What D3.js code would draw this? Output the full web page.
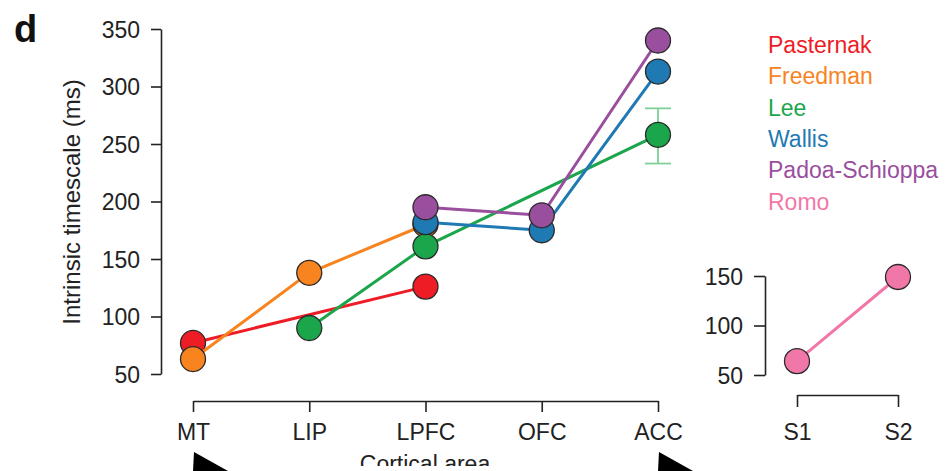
<!DOCTYPE html>
<html>
<head>
<meta charset="utf-8">
<script src="https://cdn.jsdelivr.net/npm/d3@7"></script>
<style>
  body { margin: 0; background: #fff; }
  svg { display: block; font-family: "Liberation Sans", Arial, sans-serif; }
  .axis path, .axis line { stroke: #222; stroke-width: 1.6; }
  .axis text { fill: #222; font-size: 23px; }
</style>
</head>
<body>
<div id="chart"></div>
<script>
const svgWidth = 952
const svgHeight = 471

// cortical areas and timescales (ms), null = not recorded
const areas = ["MT", "LIP", "LPFC", "OFC", "ACC"]
const pasternak = [77, null, 126, null, null]
const freedman = [63, 138, 180, null, null]
const lee = [null, 90, 161, null, 258]
const wallis = [null, null, 182, 175, 313]
const padoa = [null, null, 195, 188, 340]
const leeErrLow = [null, null, null, null, 233]
const leeErrHigh = [null, null, null, null, 281]

const mainTicks = [50, 100, 150, 200, 250, 300, 350]

// somatosensory inset
const romoAreas = ["S1", "S2"]
const romo = [64, 149]
const romoTicks = [50, 100, 150]

const seriesNames = ["Pasternak", "Freedman", "Lee", "Wallis", "Padoa-Schioppa", "Romo"]
const seriesColors = ["#ee1c25", "#f7841f", "#1ba64b", "#1f7ab4", "#9a4e9e", "#f277a9"]

let svg = d3.select("#chart")
  .append("svg")
  .attr("width", svgWidth)
  .attr("height", svgHeight)

// the figure is cropped just below the top of the x title
svg.append("clipPath")
  .attr("id", "crop")
  .append("rect")
  .attr("x", 0).attr("y", 0)
  .attr("width", svgWidth).attr("height", 466)

// scales
let x = d3.scalePoint().domain(areas).range([193, 658])
let y = d3.scaleLinear().domain([50, 350]).range([374, 29])

let xIn = d3.scalePoint().domain(romoAreas).range([797, 898])
let yIn = d3.scaleLinear().domain([50, 150]).range([375, 276])

// axes
svg.append("g")
  .attr("class", "axis")
  .attr("transform", "translate(161,0)")
  .call(d3.axisLeft(y).tickValues(mainTicks).tickSize(10).tickSizeOuter(0).tickPadding(11))
  .call(g => g.selectAll("text").attr("dy", "0.36em"))

svg.append("g")
  .attr("class", "axis")
  .attr("transform", "translate(0,401)")
  .call(d3.axisBottom(x).tickSize(11).tickSizeOuter(0))
  .call(g => g.selectAll("text").attr("y", 39).attr("dy", 0))

svg.append("g")
  .attr("class", "axis")
  .attr("transform", "translate(765,0)")
  .call(d3.axisLeft(yIn).tickValues(romoTicks).tickSize(11).tickSizeOuter(0).tickPadding(11))
  .call(g => g.selectAll("text").attr("dy", "0.36em"))

svg.append("g")
  .attr("class", "axis")
  .attr("transform", "translate(0,395)")
  .call(d3.axisBottom(xIn).tickSize(12).tickSizeOuter(0))
  .call(g => g.selectAll("text").attr("y", 45).attr("dy", 0))

// labels
svg.append("text")
  .attr("x", 14)
  .attr("y", 42)
  .attr("font-size", "38px")
  .attr("font-weight", "bold")
  .attr("fill", "#111")
  .text("d")

svg.append("text")
  .attr("transform", "translate(80,202) rotate(-90)")
  .attr("text-anchor", "middle")
  .attr("font-size", "24px")
  .attr("fill", "#222")
  .text("Intrinsic timescale (ms)")

svg.append("text")
  .attr("x", 425)
  .attr("y", 472)
  .attr("text-anchor", "middle")
  .attr("font-size", "23px")
  .attr("fill", "#222")
  .attr("clip-path", "url(#crop)")
  .text("Cortical area")

// Lee error bar at ACC
let errG = svg.append("g")
  .attr("stroke", "#7fcf98")
  .attr("stroke-width", 1.8)
areas.forEach((a, i) => {
  if (leeErrLow[i] == null) return
  let cx = x(a)
  errG.append("line").attr("x1", cx).attr("x2", cx).attr("y1", y(leeErrLow[i])).attr("y2", y(leeErrHigh[i]))
  errG.append("line").attr("x1", cx - 13).attr("x2", cx + 13).attr("y1", y(leeErrLow[i])).attr("y2", y(leeErrLow[i]))
  errG.append("line").attr("x1", cx - 13).attr("x2", cx + 13).attr("y1", y(leeErrHigh[i])).attr("y2", y(leeErrHigh[i]))
})

// series
function drawSeries(cats, vals, color, xs, ys) {
  let pts = cats.map((c, i) => [c, vals[i]]).filter(d => d[1] != null)
  let line = d3.line().x(d => xs(d[0])).y(d => ys(d[1]))
  svg.append("path")
    .datum(pts)
    .attr("d", line)
    .attr("fill", "none")
    .attr("stroke", color)
    .attr("stroke-width", 3)
  svg.append("g")
    .selectAll("circle")
    .data(pts)
    .enter()
    .append("circle")
    .attr("cx", d => xs(d[0]))
    .attr("cy", d => ys(d[1]))
    .attr("r", 12.5)
    .attr("fill", color)
    .attr("stroke", "#2a2a2a")
    .attr("stroke-width", 1.3)
}

let mainSeries = [pasternak, freedman, lee, wallis, padoa]
mainSeries.forEach((s, i) => drawSeries(areas, s, seriesColors[i], x, y))
drawSeries(romoAreas, romo, seriesColors[5], xIn, yIn)

// legend
svg.append("g")
  .selectAll("text")
  .data(seriesNames)
  .enter()
  .append("text")
  .attr("x", 768)
  .attr("y", (d, i) => 53 + i * 31.3)
  .attr("font-size", "23px")
  .attr("fill", (d, i) => seriesColors[i])
  .text(d => d)

// arrow heads pointing at the first and last areas
svg.append("g")
  .selectAll("path")
  .data(["MT", "ACC"])
  .enter()
  .append("path")
  .attr("d", d => {
    let ax = x(d) + 1
    return `M${ax},452 L${ax + 34},471 L${ax - 1},471 Z`
  })
  .attr("fill", "#000")
</script>
</body>
</html>
